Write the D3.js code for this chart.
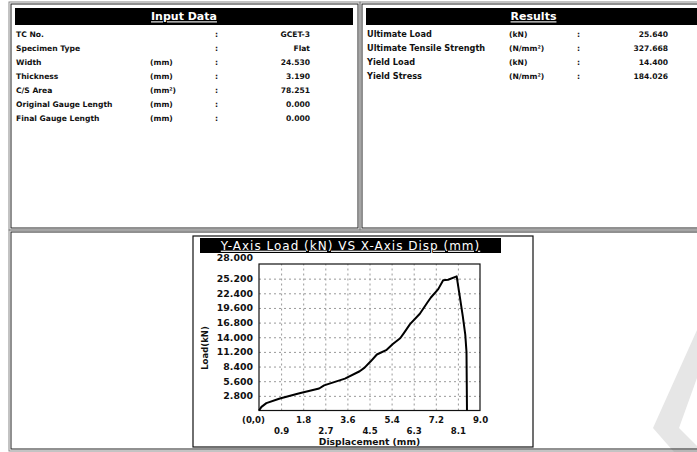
<!DOCTYPE html>
<html>
<head>
<meta charset="utf-8">
<script src="https://cdn.jsdelivr.net/npm/d3@7"></script>
<style>
  body { margin: 0; background: #fff; }
  text { font-family: "DejaVu Sans", Verdana, sans-serif; fill: #111; }
</style>
</head>
<body>
<div id="report"></div>
<script>
// ---- data ----
var inputLabels = ["TC No.", "Specimen Type", "Width", "Thickness", "C/S Area", "Original Gauge Length", "Final Gauge Length"];
var inputUnits  = ["", "", "(mm)", "(mm)", "(mm\u00B2)", "(mm)", "(mm)"];
var inputValues = ["GCET-3", "Flat", "24.530", "3.190", "78.251", "0.000", "0.000"];

var resultLabels = ["Ultimate Load", "Ultimate Tensile Strength", "Yield Load", "Yield Stress"];
var resultUnits  = ["(kN)", "(N/mm\u00B2)", "(kN)", "(N/mm\u00B2)"];
var resultValues = ["25.640", "327.668", "14.400", "184.026"];

// load vs displacement curve
var dispValues = [0, 0.1, 0.3, 0.85, 1.65, 2.45, 2.65, 3.5, 4.1, 4.3, 4.55, 4.8, 5.2, 5.45, 5.75, 5.9, 6.15, 6.55, 6.85, 7.0, 7.3, 7.5, 7.7, 8.05, 8.17, 8.3, 8.4, 8.45, 8.47];
var loadValues = [0, 0.7, 1.4, 2.3, 3.3, 4.2, 4.8, 6.1, 7.5, 8.2, 9.4, 10.7, 11.6, 12.7, 13.8, 14.8, 16.5, 18.5, 20.6, 21.6, 23.2, 24.9, 25.0, 25.64, 22.0, 18.0, 14.5, 11.2, 0];

var xTicks = [0, 0.9, 1.8, 2.7, 3.6, 4.5, 5.4, 6.3, 7.2, 8.1, 9.0];
var yTicks = [2.8, 5.6, 8.4, 11.2, 14.0, 16.8, 19.6, 22.4, 25.2, 28.0];

var chartTitle = "Y-Axis Load (kN) VS X-Axis Disp (mm)";

var width = 697, height = 452;

var svg = d3.select("#report")
  .append("svg")
  .attr("width", width)
  .attr("height", height);

// faint scanner watermark in the corner
svg.append("polygon")
  .attr("points", "697,330 697,378 679,428 697,446 697,452 674,452 653,428")
  .attr("fill", "#e6e6e6");

// ---- panel frames ----
function frame(x, y, w, h) {
  svg.append("rect").attr("x", x).attr("y", y).attr("width", w).attr("height", h)
    .attr("fill", "none").attr("stroke", "#888").attr("stroke-width", 1);
  svg.append("rect").attr("x", x + 2).attr("y", y + 2).attr("width", w - 4).attr("height", h - 4)
    .attr("fill", "none").attr("stroke", "#222").attr("stroke-width", 1);
}

function header(x, y, w, h, label, fs, weight, spacing) {
  svg.append("rect").attr("x", x).attr("y", y).attr("width", w).attr("height", h).attr("fill", "#000");
  svg.append("text")
    .attr("x", x + w / 2).attr("y", y + h / 2)
    .attr("dy", "0.35em")
    .attr("text-anchor", "middle")
    .style("fill", "#fff")
    .style("font-size", fs + "px")
    .style("font-weight", weight)
    .style("letter-spacing", (spacing || 0) + "px")
    .style("text-decoration", "underline")
    .text(label);
}

frame(9, 2, 351, 228);
frame(360, 2, 345, 228);
frame(9, 230, 700, 221);

header(15, 8, 338, 17, "Input Data", 11, "bold");
header(366, 8, 335, 17, "Results", 11, "bold");

// ---- input data rows ----
var rowY = d3.scaleLinear().domain([0, 1]).range([34, 48.1]);

var inRows = svg.append("g").selectAll("g")
  .data(inputLabels)
  .enter().append("g")
  .attr("transform", function(d, i) { return "translate(0," + rowY(i) + ")"; });

inRows.append("text").attr("x", 16).attr("dy", "0.35em").attr("class", "cell").text(function(d) { return d; });
inRows.append("text").attr("x", 150).attr("dy", "0.35em").attr("class", "cell").text(function(d, i) { return inputUnits[i]; });
inRows.append("text").attr("x", 215).attr("dy", "0.35em").attr("class", "cell").text(":");
inRows.append("text").attr("x", 310).attr("dy", "0.35em").attr("class", "cell").attr("text-anchor", "end")
  .text(function(d, i) { return inputValues[i]; });

// ---- results rows ----
var resRows = svg.append("g").selectAll("g")
  .data(resultLabels)
  .enter().append("g")
  .attr("transform", function(d, i) { return "translate(0," + rowY(i) + ")"; });

resRows.append("text").attr("x", 367).attr("dy", "0.35em").attr("class", "cell wide").text(function(d) { return d; });
resRows.append("text").attr("x", 509).attr("dy", "0.35em").attr("class", "cell").text(function(d, i) { return resultUnits[i]; });
resRows.append("text").attr("x", 577).attr("dy", "0.35em").attr("class", "cell").text(":");
resRows.append("text").attr("x", 668).attr("dy", "0.35em").attr("class", "cell").attr("text-anchor", "end")
  .text(function(d, i) { return resultValues[i]; });

svg.selectAll("text.cell")
  .style("font-size", "7.6px")
  .style("font-weight", "bold");
svg.selectAll("text.wide")
  .style("font-size", "8.2px");

// ---- chart box ----
svg.append("rect").attr("x", 193).attr("y", 236).attr("width", 340).attr("height", 211)
  .attr("fill", "#fff").attr("stroke", "#111").attr("stroke-width", 1.2);
header(200, 238, 301, 15, chartTitle, 12, "normal", 1.0);

var x = d3.scaleLinear().domain([0, 9]).range([259, 480]);
var y = d3.scaleLinear().domain([0, 28]).range([410.5, 264]);

// grid
svg.append("g")
  .attr("class", "grid")
  .attr("transform", "translate(0,410.5)")
  .call(d3.axisBottom(x).tickValues(xTicks.slice(1, -1)).tickSize(-146.5).tickFormat(""));
svg.append("g")
  .attr("class", "grid")
  .attr("transform", "translate(259,0)")
  .call(d3.axisLeft(y).tickValues(yTicks.slice(0, -1)).tickSize(-221).tickFormat(""));
svg.selectAll(".grid .domain").remove();
svg.selectAll(".grid line")
  .attr("stroke", "#999")
  .attr("stroke-dasharray", "2,3");

// plot border
svg.append("rect").attr("x", 259).attr("y", 264).attr("width", 221).attr("height", 146.5)
  .attr("fill", "none").attr("stroke", "#111").attr("stroke-width", 1.2);

// y axis labels
var yAxis = svg.append("g")
  .attr("transform", "translate(259,0)")
  .call(d3.axisLeft(y).tickValues(yTicks).tickSize(0).tickPadding(6).tickFormat(d3.format(".3f")));
yAxis.select(".domain").remove();
yAxis.selectAll("text")
  .style("font-size", "9.4px")
  .style("font-weight", "bold")
  .attr("fill", "#111");
yAxis.selectAll(".tick").filter(function(d) { return d === 28; })
  .select("text").attr("y", -7);

// x axis labels, alternating rows
var xAxis = svg.append("g")
  .attr("transform", "translate(0,410.5)")
  .call(d3.axisBottom(x).tickValues(xTicks).tickSize(0).tickPadding(6)
    .tickFormat(function(d) { return d === 0 ? "(0,0)" : d3.format(".1f")(d); }));
xAxis.select(".domain").remove();
xAxis.selectAll("text")
  .style("font-size", "8.6px")
  .style("font-weight", "bold")
  .attr("fill", "#111");
xAxis.selectAll(".tick").filter(function(d, i) { return i % 2 === 1; })
  .select("text").attr("y", 17);
xAxis.selectAll(".tick").filter(function(d) { return d === 0; })
  .select("text").attr("x", -6);

svg.append("text")
  .attr("x", 369.5).attr("y", 445)
  .attr("text-anchor", "middle")
  .style("font-size", "9.2px")
  .style("font-weight", "bold")
  .text("Displacement (mm)");

svg.append("text")
  .attr("transform", "translate(208,348) rotate(-90)")
  .attr("text-anchor", "middle")
  .style("font-size", "8.5px")
  .style("font-weight", "bold")
  .text("Load(kN)");

// load curve
var curve = dispValues.map(function(d, i) { return [d, loadValues[i]]; });
var line = d3.line()
  .x(function(d) { return x(d[0]); })
  .y(function(d) { return y(d[1]); });

svg.append("path")
  .datum(curve)
  .attr("d", line)
  .attr("fill", "none")
  .attr("stroke", "#000")
  .attr("stroke-width", 2)
  .attr("stroke-linejoin", "round");
</script>
</body>
</html>
